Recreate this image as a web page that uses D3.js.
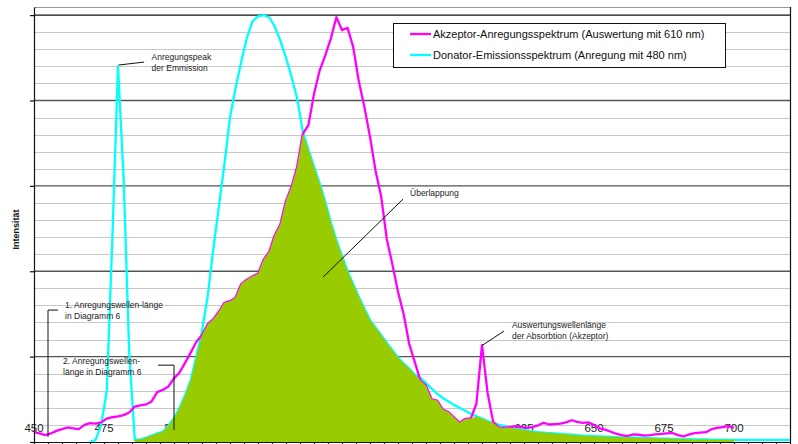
<!DOCTYPE html>
<html>
<head>
<meta charset="utf-8">
<script src="https://cdn.jsdelivr.net/npm/d3@7"></script>
<style>
  html, body { margin: 0; padding: 0; background: #fff; }
  svg { display: block; font-family: "Liberation Sans", Arial, sans-serif; }
</style>
</head>
<body>
<svg id="chart" width="798" height="444"></svg>
<script>
// Wavelength grid (nm), 2 nm steps
const wavelengths = d3.range(450, 721, 2);

// Donor emission spectrum (excitation at 480 nm), relative intensity
const donorEmission = [
  null, null, null, null, null, null, null, null, null, null,
  0, 0.5, 4, 12, 48, 88, 62, 21, 0.5, 0.6,
  1.0, 1.5, 2.0, 2.4, 3.8, 5.6, 8.0, 11, 14.5, 20,
  26, 34, 45, 55, 65, 76, 83, 89, 94.6, 98.5,
  99.7, 100, 99.5, 97.3, 94, 90, 85.5, 80.4, 72.7, 68.5,
  64.5, 60.6, 56.3, 51.5, 47.3, 43.6, 40, 37, 34, 31.3,
  28.6, 26.8, 25, 23.2, 21.5, 19.8, 18.4, 17.2, 15.8, 15.0,
  13.8, 12.5, 11.3, 10.3, 9.5, 8.7, 8.0, 7.3, 6.6, 6.0,
  5.5, 4.9, 4.5, 4.0, 3.7, 3.4, 3.1, 2.9, 2.7, 2.5,
  2.3, 2.2, 2.1, 2.0, 1.9, 1.8, 1.7, 1.6, 1.5, 1.4,
  1.35, 1.3, 1.25, 1.2, 1.15, 1.1, 1.05, 1.0, 0.95, 0.9,
  0.9, 0.85, 0.8, 0.8, 0.75, 0.7, 0.7, 0.65, 0.6, 0.6,
  0.6, 0.55, 0.55, 0.55, 0.5, 0.5, 0.5, 0.5, 0.5, 0.5,
  0.5, 0.5, 0.5, 0.5, 0.5, 0.5
];

// Acceptor excitation spectrum (detection at 610 nm), relative intensity
const acceptorExcitation = [
  2.3, 2.0, 1.6, 2.0, 2.6, 3.0, 3.4, 3.2, 3.0, 4.0,
  4.4, 4.3, 4.6, 5.5, 5.8, 6.0, 6.3, 6.9, 8.3, 8.6,
  8.8, 9.5, 11.7, 12.2, 13.0, 14.9, 16.3, 18.6, 21.0, 23.5,
  25.0, 27.6, 28.7, 30.5, 32.6, 33.0, 33.8, 37.0, 38.0, 38.8,
  39.4, 42.7, 44.5, 48.5, 51.0, 56.5, 59.8, 64.5, 72.2, 74.2,
  81.5, 87.0, 90.5, 94.5, 99.5, 96.5, 97.0, 92.5, 84.5, 78.5,
  71.5, 63.5, 57.5, 47.5, 41.6, 35.2, 30.0, 23.0, 18.7, 14.4,
  13.2, 10.0, 9.7, 7.6, 7.0, 5.8, 4.5, 5.4, 5.5, 9.0,
  22.7, 11.5, 4.7, 3.4, 3.3, 3.5, 3.7, 3.5, 3.3, 3.5,
  3.9, 4.5, 4.1, 4.2, 4.3, 4.6, 5.1, 4.7, 4.5, 4.6,
  4.0, 3.2, 2.9, 2.4, 1.9, 1.6, 1.4, 1.8, 1.7, 1.5,
  1.6, 1.8, 1.9, 2.0, 2.1, 1.6, 1.3, 1.8, 2.1, 2.2,
  2.3, 3.0, 3.3, 3.5, 3.7, 3.3, null, null, null, null,
  null, null, null, null, null, null
];

// The overlap region starts after the narrow excitation peak
const overlapFrom = 486;

// X tick labels (nm)
const xLabels = [450, 475, 500, 525, 550, 575, 600, 625, 650, 675, 700];
const xMinorTicks = d3.range(450, 721, 5);
const yMajor = [20, 40, 60, 80, 100];
const yMinor = d3.range(4, 100, 4).filter(v => v % 20 !== 0);

const legendItems = [
  { label: "Akzeptor-Anregungsspektrum (Auswertung mit 610 nm)", color: "#ff00ff" },
  { label: "Donator-Emissionsspektrum (Anregung mit 480 nm)", color: "#00ffff" }
];

// Annotations in data coordinates (nm, intensity)
const annotations = [
  { lines: ["Anregungspeak", "der Emmission"], at: [492, 90.2],
    path: [[480.2, 88.3], [489.3, 89.0]] },
  { lines: ["Überlappung"], at: [584.3, 58.3],
    path: [[581.8, 56.9], [553.2, 38.6]] },
  { lines: ["Auswertungswellenlänge", "der Absorbtion (Akzeptor)"], at: [620.7, 27.4],
    path: [[617.9, 26.0], [610, 22.6]] },
  { lines: ["1. Anregungswellen-länge", "in Diagramm 6"], at: [461.1, 32.1],
    path: [[458.6, 30.9], [455, 30.9], [455, 1.2]] },
  { lines: ["2. Anregungswellen-", "länge in Diagramm 6"], at: [460.4, 19.0],
    path: [[494.3, 18.0], [500, 18.0], [500, 2.8]] }
];

const svg = d3.select("#chart");
const plotLeft = 34, plotRight = 790, plotTop = 7, plotBottom = 442;

const x = d3.scaleLinear().domain([450, 720]).range([plotLeft, plotRight]);
const y = d3.scaleLinear().domain([0, 101.9]).range([plotBottom, plotTop]);

// Gridlines
const grid = svg.append("g");
grid.selectAll(".minor").data(yMinor).join("line")
  .attr("x1", plotLeft).attr("x2", plotRight)
  .attr("y1", d => Math.round(y(d)) + 0.5).attr("y2", d => Math.round(y(d)) + 0.5)
  .attr("stroke", "#c8c8c8").attr("stroke-width", 1);
grid.selectAll(".major").data(yMajor).join("line")
  .attr("x1", plotLeft).attr("x2", plotRight)
  .attr("y1", d => y(d)).attr("y2", d => y(d))
  .attr("stroke", d => d === 100 ? "#111" : "#555").attr("stroke-width", 1.3);

// Plot frame (top and right)
svg.append("line").attr("x1", plotLeft).attr("x2", plotRight)
  .attr("y1", plotTop + 0.5).attr("y2", plotTop + 0.5)
  .attr("stroke", "#999").attr("stroke-width", 1);
svg.append("line").attr("x1", plotRight + 0.5).attr("x2", plotRight + 0.5)
  .attr("y1", plotTop).attr("y2", plotBottom)
  .attr("stroke", "#111").attr("stroke-width", 1.2);

// X tick labels sit inside the plot, behind the data
svg.append("g").selectAll("text").data(xLabels).join("text")
  .attr("x", d => x(d)).attr("y", 432)
  .attr("text-anchor", "middle")
  .attr("font-size", 11.5).attr("fill", "#222")
  .text(d => d);

const donorData = wavelengths.map((w, i) => ({ w, v: donorEmission[i] }));
const acceptorData = wavelengths.map((w, i) => ({ w, v: acceptorExcitation[i] }));
const overlapData = wavelengths.map((w, i) => {
  const a = donorEmission[i], b = acceptorExcitation[i];
  return { w, v: (w >= overlapFrom && a != null && b != null) ? Math.min(a, b) : null };
});

const line = d3.line()
  .defined(d => d.v != null)
  .x(d => x(d.w)).y(d => y(d.v));

svg.append("path").datum(donorData)
  .attr("d", line).attr("fill", "none")
  .attr("stroke", "#00ffff").attr("stroke-width", 2.3).attr("stroke-linejoin", "round");

svg.append("path").datum(acceptorData)
  .attr("d", line).attr("fill", "none")
  .attr("stroke", "#ff00ff").attr("stroke-width", 2.3).attr("stroke-linejoin", "round");

const area = d3.area()
  .defined(d => d.v != null)
  .x(d => x(d.w)).y0(y(0)).y1(d => y(d.v));

svg.append("path").datum(overlapData)
  .attr("d", area).attr("fill", "#99cc00");

// Axes
const xAxis = svg.append("g").attr("transform", `translate(0,${plotBottom})`)
  .call(d3.axisBottom(x).tickValues(xMinorTicks).tickSize(5).tickSizeOuter(0).tickFormat(""));
xAxis.selectAll("path, line").attr("stroke", "#111").attr("stroke-width", 1.2);

const yAxis = svg.append("g").attr("transform", `translate(${plotLeft},0)`)
  .call(d3.axisLeft(y).tickValues([0].concat(yMajor)).tickSize(4).tickSizeOuter(0).tickFormat(""));
yAxis.selectAll("path, line").attr("stroke", "#111").attr("stroke-width", 1.2);

// Y axis title
svg.append("text")
  .attr("transform", `translate(19,${(plotTop + plotBottom) / 2 + 5}) rotate(-90)`)
  .attr("text-anchor", "middle")
  .attr("font-size", 9).attr("font-weight", "bold").attr("fill", "#111")
  .text("Intensität");

// Annotations
const ann = svg.append("g");
annotations.forEach(a => {
  ann.append("path")
    .attr("d", d3.line()(a.path.map(p => [x(p[0]), y(p[1])])))
    .attr("fill", "none").attr("stroke", "#111").attr("stroke-width", 1);
  const t = ann.append("text")
    .attr("x", x(a.at[0])).attr("y", y(a.at[1]) + 3)
    .attr("font-size", 8.5).attr("fill", "#222");
  a.lines.forEach((s, i) => {
    t.append("tspan").attr("x", x(a.at[0])).attr("dy", i === 0 ? 0 : 11).text(s);
  });
});

// Legend
const lg = svg.append("g").attr("transform", "translate(393,23)");
lg.append("rect").attr("x", 0.5).attr("y", 0.5).attr("width", 332).attr("height", 44)
  .attr("fill", "#fff").attr("stroke", "#111").attr("stroke-width", 1);
legendItems.forEach((it, i) => {
  const cy = 11 + i * 21;
  lg.append("line").attr("x1", 17).attr("x2", 38).attr("y1", cy).attr("y2", cy)
    .attr("stroke", it.color).attr("stroke-width", 2.3);
  lg.append("text").attr("x", 40).attr("y", cy + 4)
    .attr("font-size", 11).attr("fill", "#111").text(it.label);
});
</script>
</body>
</html>
